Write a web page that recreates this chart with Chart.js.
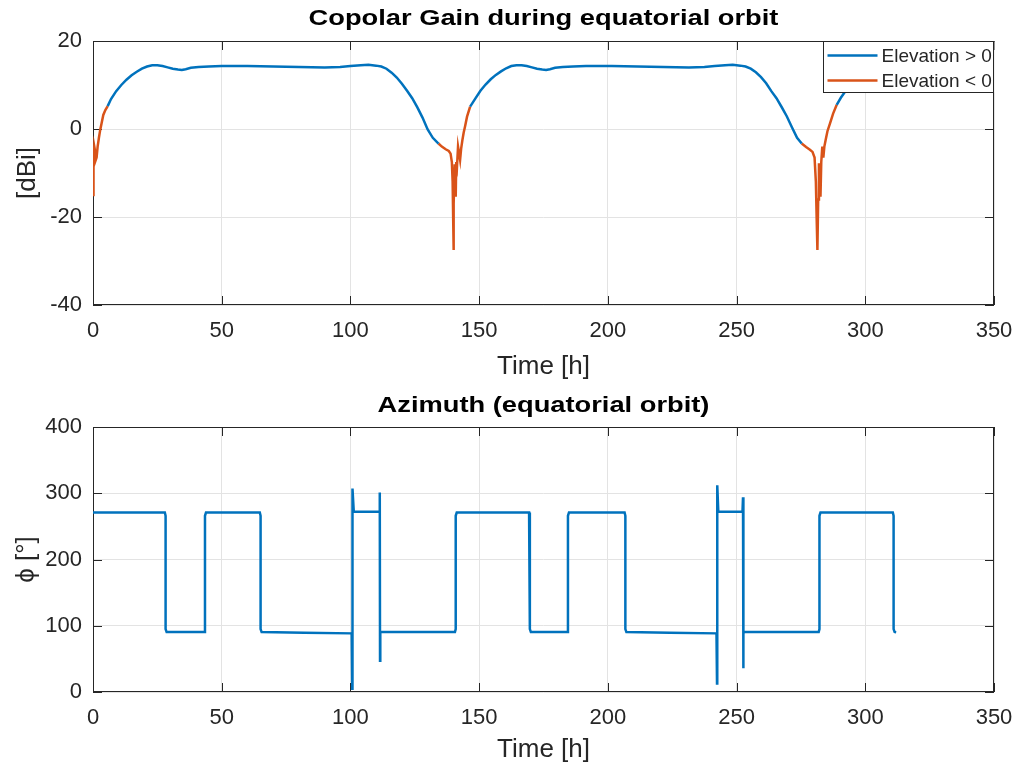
<!DOCTYPE html>
<html>
<head>
<meta charset="utf-8">
<script src="https://cdn.jsdelivr.net/npm/chart.js@4.4.0/dist/chart.umd.min.js"></script>
<style>
  html, body { margin: 0; padding: 0; background: #fff; }
  canvas { display: block; }
</style>
</head>
<body>
<canvas id="gainChart" width="1021" height="385"></canvas>
<canvas id="azChart" width="1021" height="386"></canvas>
<script>
// Copolar gain, elevation > 0 (null = break in the line)
const upTime = [
  5.7, 7, 9, 11, 13, 15, 17, 19, 21, 23, 25, 27, 29, 31, 33, 34.5, 36, 38, 41, 45,
  50, 60, 70, 80, 90, 96, 100, 104, 107, 110, 112, 114, 116, 118, 120, 122, 124, 126, 128, 130,
  132, 134.2,
  134.2,
  146.5, 148.5, 150.5, 152.5, 154.5, 156.5, 158.5, 160.5, 162.5, 164.5, 166.5, 168.5, 170.5, 172.5, 174.5, 176, 177.5, 179.5, 182.5, 186.5,
  191.5, 201.5, 211.5, 221.5, 231.5, 237.5, 241.5, 245.5, 248.5, 251.5, 253.5, 255.5, 257.5, 259.5, 261.5, 263.5, 265.5, 267.5, 269.5, 271.5,
  273.5, 275.3,
  275.3,
  288.9, 290.5, 292.2, 294, 296, 298, 300, 303, 306, 309, 311.5
];
const upGain = [
  5.2, 6.8, 8.6, 10.0, 11.2, 12.2, 13.0, 13.7, 14.2, 14.5, 14.5, 14.3, 14.0, 13.7, 13.5, 13.4, 13.6, 13.9, 14.1, 14.2,
  14.3, 14.3, 14.2, 14.1, 14.0, 14.1, 14.3, 14.5, 14.6, 14.4, 14.2, 13.7, 12.8, 11.7, 10.3, 8.7, 7.0, 4.9, 2.6, -0.1,
  -2.0, -3.3,
  null,
  5.1, 6.9, 8.7, 10.1, 11.3, 12.3, 13.1, 13.8, 14.3, 14.5, 14.5, 14.3, 14.0, 13.7, 13.5, 13.4, 13.6, 13.9, 14.1, 14.2,
  14.3, 14.3, 14.2, 14.1, 14.0, 14.1, 14.3, 14.5, 14.6, 14.4, 14.2, 13.7, 12.9, 11.8, 10.4, 8.6, 7.0, 5.0, 2.9, 0.4,
  -2.0, -3.3,
  null,
  5.5, 7.1, 8.5, 9.6, 10.6, 11.5, 12.3, 13.2, 13.8, 14.3, 14.5
];

// Copolar gain, elevation < 0
const downTime = [
  0, 0.2, 0.5, 0.8, 1.1, 1.4, 1.8, 2.3, 2.8, 3.4, 4.0, 4.8, 5.7,
  5.7,
  134.2, 135.5, 137, 138.2, 138.9, 139.4, 139.7, 139.9, 140.0, 140.2, 140.5, 140.7, 140.9, 141.1, 141.4, 141.8, 142.2, 142.6, 143.0, 143.5,
  144.0, 144.5, 145.3, 146.5,
  146.5,
  275.3, 277, 278.5, 279.5, 280.3, 280.8, 281.1, 281.4, 281.7, 282.0, 282.3, 282.6, 282.9, 283.3, 283.7, 284.1, 284.6, 285.3, 286.3, 287.5,
  288.9
];
const downGain = [
  -15, -8, -4, -5, -7, -6.5, -4, -2, -0.2, 1.5, 3.2, 4.3, 5.2,
  null,
  -3.3, -4.0, -4.6, -5.0, -5.6, -7.5, -12, -20, -27.5, -17, -8, -12, -15.4, -7.5, -8.5, -4, -5.5, -7, -4.5, -2.5,
  -0.8, 0.5, 2.8, 5.1,
  null,
  -3.3, -4.1, -4.7, -5.2, -6.5, -12, -20, -27.5, -16, -7.8, -10, -15.4, -7.5, -4, -6.5, -4, -2.5, -0.5, 1.3, 3.5,
  5.5
];

// Azimuth
const azTime = [
  0, 27.9, 28.2, 28.2, 28.6,
  43.2, 43.5, 43.5, 43.9,
  64.8, 65.1, 65.1, 65.5,
  82, 100.5, 100.7, 100.8, 101.3,
  111.2, 111.4, 111.5, 111.6, 111.9,
  140.6, 140.9, 140.9, 141.3,
  169.4, 169.7, 169.7, 170.1,
  184.2, 184.5, 184.5, 184.9,
  206.5, 206.8, 206.8, 207.2,
  224, 242.2, 242.4, 242.5, 242.9,
  252.3, 252.5, 252.6, 252.7, 253.0,
  281.9, 282.2, 282.2, 282.6,
  310.7, 311.0, 311.0, 311.4, 312.0
];
const azimuth = [
  271, 271, 266, 95, 90.5,
  90.5, 95, 266, 271,
  271, 266, 95, 90.5,
  89.5, 88.5, 5, 307, 272,
  272, 301, 47, 89, 90.5,
  90.5, 95, 266, 271,
  271, 266, 95, 90.5,
  90.5, 95, 266, 271,
  271, 266, 95, 90.5,
  89.5, 88.5, 13, 312, 272,
  272, 294, 36, 89, 90.5,
  90.5, 95, 266, 271,
  271, 266, 95, 90.5, 90
];

const seriesLabels = ['Elevation > 0', 'Elevation < 0'];
const xTicks = [0, 50, 100, 150, 200, 250, 300, 350];

const BLUE = '#0072BD';
const ORANGE = '#D95319';
const AXIS = '#262626';
const GRID = '#e3e3e3';
const FONT = "Arial, 'Liberation Sans', Helvetica, sans-serif";

const toPoints = (ts, vs) => ts.map((t, i) => ({ x: t, y: vs[i] }));

// Caixa do eixo + marcas de escala para dentro (estilo MATLAB)
const matlabFrame = {
  id: 'matlabFrame',
  beforeDatasetsDraw(chart) {
    const { ctx, chartArea: a, scales: { x, y } } = chart;
    const len = 9;
    ctx.save();
    ctx.strokeStyle = AXIS;
    ctx.lineWidth = 1;
    ctx.beginPath();
    x.ticks.forEach(t => {
      const px = Math.round(x.getPixelForValue(t.value)) + 0.5;
      ctx.moveTo(px, a.bottom); ctx.lineTo(px, a.bottom - len);
      ctx.moveTo(px, a.top); ctx.lineTo(px, a.top + len);
    });
    y.ticks.forEach(t => {
      const py = Math.round(y.getPixelForValue(t.value)) + 0.5;
      ctx.moveTo(a.left, py); ctx.lineTo(a.left + len, py);
      ctx.moveTo(a.right, py); ctx.lineTo(a.right - len, py);
    });
    ctx.stroke();
    ctx.strokeRect(Math.round(a.left) + 0.5, Math.round(a.top) + 0.5,
      Math.round(a.width) - 1, Math.round(a.height) - 1);
    ctx.restore();
  }
};

// Título centrado sobre a área do gráfico (o do Chart.js centra no canvas)
const axesTitle = {
  id: 'axesTitle',
  afterDraw(chart, args, opts) {
    const { ctx, chartArea: a } = chart;
    ctx.save();
    ctx.font = 'bold 22px ' + FONT;
    ctx.fillStyle = '#000';
    ctx.textAlign = 'center';
    ctx.textBaseline = 'middle';
    ctx.translate((a.left + a.right) / 2, opts.y);
    ctx.scale(1.24, 1);
    ctx.fillText(opts.text, 0, 0);
    ctx.restore();
  }
};

// Legenda dentro da área do gráfico, canto superior direito
const boxLegend = {
  id: 'boxLegend',
  afterDatasetsDraw(chart) {
    const { ctx, chartArea: a } = chart;
    const w = 171, h = 51;
    const left = Math.round(a.right - w) + 0.5;
    const top = Math.round(a.top) + 0.5;
    ctx.save();
    ctx.fillStyle = '#fff';
    ctx.fillRect(left, top, w, h);
    ctx.strokeStyle = AXIS;
    ctx.lineWidth = 1;
    ctx.strokeRect(left, top, w - 1, h);
    ctx.font = '19px ' + FONT;
    ctx.textBaseline = 'middle';
    chart.data.datasets.forEach((ds, i) => {
      const yy = top + 14 + i * 25;
      ctx.strokeStyle = ds.borderColor;
      ctx.lineWidth = 2.5;
      ctx.beginPath();
      ctx.moveTo(left + 4, yy);
      ctx.lineTo(left + 54, yy);
      ctx.stroke();
      ctx.fillStyle = AXIS;
      ctx.fillText(ds.label, left + 58, yy + 1);
    });
    ctx.restore();
  }
};

function yAxis(min, max, step, title, titlePad) {
  return {
    type: 'linear',
    min, max,
    ticks: { stepSize: step, color: AXIS, padding: 11, font: { size: 22, family: FONT } },
    grid: { color: GRID, drawTicks: false },
    border: { display: false },
    title: { display: true, text: title, color: AXIS, font: { size: 26, family: FONT }, padding: { top: titlePad } },
    afterFit: s => { s.width = 93; }
  };
}

function xAxis(height, titleBottom) {
  return {
    type: 'linear',
    min: 0, max: 350,
    afterBuildTicks: s => { s.ticks = xTicks.map(v => ({ value: v })); },
    ticks: { color: AXIS, padding: 12.5, maxRotation: 0, font: { size: 22, family: FONT } },
    grid: { color: GRID, drawTicks: false },
    border: { display: false },
    title: { display: true, text: 'Time [h]', color: AXIS, font: { size: 26, family: FONT }, padding: { bottom: titleBottom } },
    afterFit: s => {
      s.height = height;
      // a margem da direita fica só com layout.padding
      s.paddingLeft = 0;
      s.paddingRight = 0;
    }
  };
}

new Chart(document.getElementById('gainChart'), {
  type: 'line',
  data: {
    datasets: [
      { label: seriesLabels[0], data: toPoints(upTime, upGain), borderColor: BLUE, borderWidth: 2.5, pointRadius: 0, spanGaps: false },
      { label: seriesLabels[1], data: toPoints(downTime, downGain), borderColor: ORANGE, borderWidth: 2.5, pointRadius: 0, spanGaps: false }
    ]
  },
  options: {
    responsive: false,
    animation: false,
    layout: { padding: { left: 0, right: 27, top: 41, bottom: 0 } },
    plugins: {
      legend: { display: false },
      tooltip: { enabled: false },
      title: { display: false },
      axesTitle: { text: 'Copolar Gain during equatorial orbit', y: 19 }
    },
    scales: {
      x: xAxis(80, 2.5),
      y: yAxis(-40, 20, 20, '[dBi]', 12.5)
    }
  },
  plugins: [matlabFrame, boxLegend, axesTitle]
});

new Chart(document.getElementById('azChart'), {
  type: 'line',
  data: {
    datasets: [
      { label: 'Azimuth', data: toPoints(azTime, azimuth), borderColor: BLUE, borderWidth: 2.5, pointRadius: 0 }
    ]
  },
  options: {
    responsive: false,
    animation: false,
    layout: { padding: { left: 0, right: 27, top: 42, bottom: 0 } },
    plugins: {
      legend: { display: false },
      tooltip: { enabled: false },
      title: { display: false },
      axesTitle: { text: 'Azimuth (equatorial orbit)', y: 21 }
    },
    scales: {
      x: xAxis(79, 5.5),
      y: yAxis(0, 400, 100, 'ϕ [°]', 11.5)
    }
  },
  plugins: [matlabFrame, axesTitle]
});
</script>
</body>
</html>
